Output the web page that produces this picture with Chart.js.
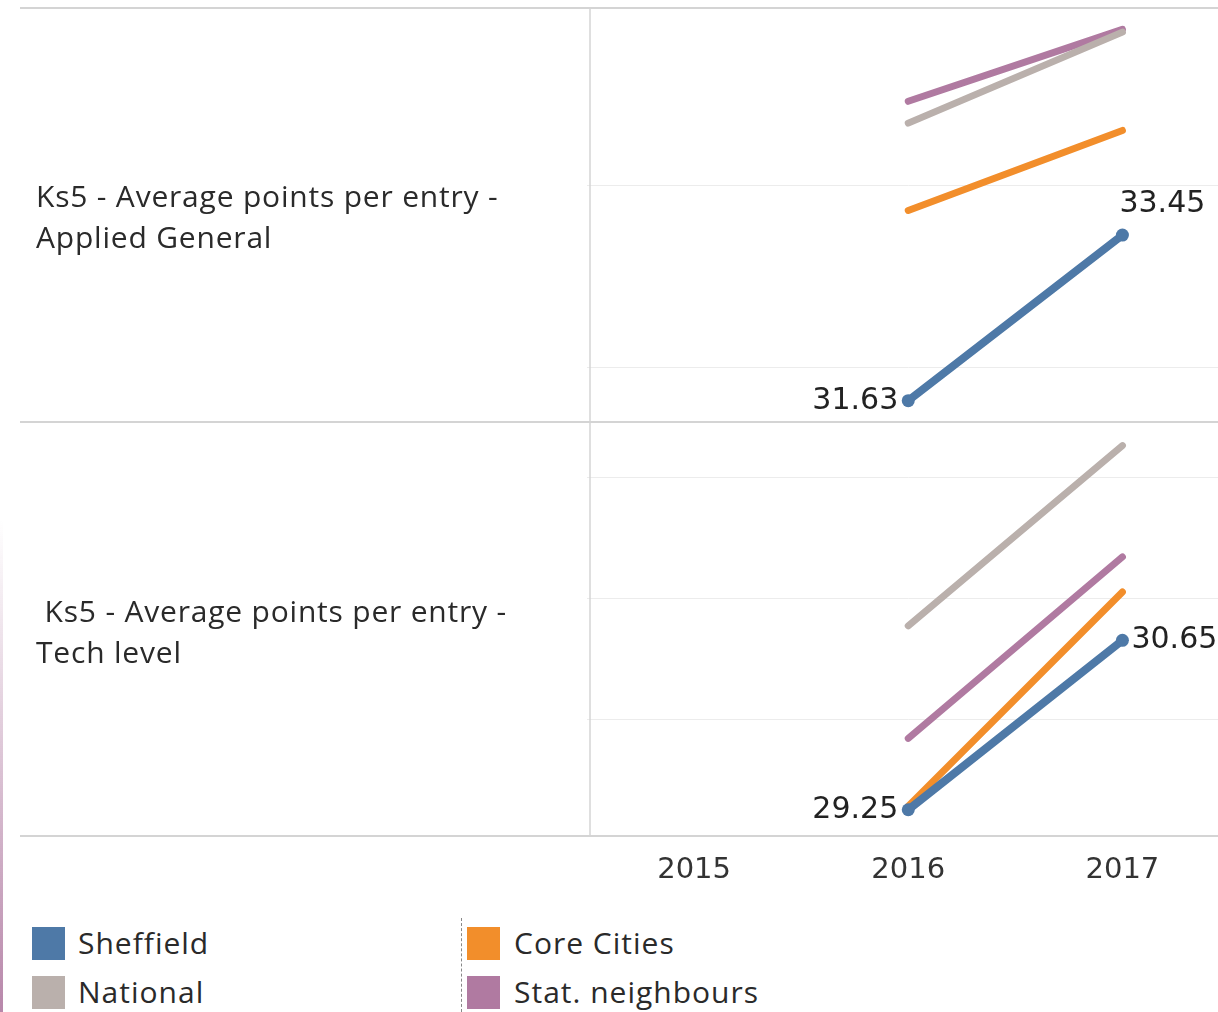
<!DOCTYPE html>
<html>
<head>
<meta charset="utf-8">
<script src="https://cdn.jsdelivr.net/npm/chart.js@4.4.0/dist/chart.umd.min.js"></script>
<style>
  html, body { margin:0; padding:0; background:#fff; width:1218px; height:1012px; overflow:hidden; position:relative; }
  body { font-family: "Open Sans", "Noto Sans", sans-serif; color:#333; }
  #c { position:absolute; left:0; top:0; }
  .rowlab { position:absolute; left:36px; font-size:30px; letter-spacing:0.8px; line-height:41px; color:#2a2a2a; white-space:pre; }
  .sw { position:absolute; width:33px; height:33px; }
  .lt { position:absolute; font-size:30px; letter-spacing:1px; line-height:34px; color:#2a2a2a; white-space:nowrap; }
  #dash { position:absolute; left:461px; top:918px; height:94px; width:0; border-left:1.5px dashed #888; }
  #edge { position:absolute; left:0; top:520px; width:3px; height:492px;
          background:linear-gradient(to bottom, rgba(176,122,161,0), rgba(176,122,161,0.9)); }
</style>
</head>
<body>
<canvas id="c" width="1236" height="900"></canvas>

<div class="rowlab" id="lab1" style="top:175px;"></div>
<div class="rowlab" id="lab2" style="top:590px;"></div>

<div id="legend"></div>
<div id="dash"></div>
<div id="edge"></div>

<script>
// ---------- data ----------
const years = ["2015", "2016", "2017"];
const seriesNames = ["Sheffield", "Core Cities", "National", "Stat. neighbours"];
const rowTitles = [
  ["Ks5 - Average points per entry -", "Applied General"],
  [" Ks5 - Average points per entry -", "Tech level"]
];

// Applied General
const agSheffield = [null, 31.63, 33.45];
const agCoreCities = [null, 33.72, 34.60];
const agNational = [null, 34.68, 35.68];
const agStatNeighbours = [null, 34.92, 35.71];

// Tech level
const tlSheffield = [null, 29.25, 30.65];
const tlCoreCities = [null, 29.28, 31.05];
const tlNational = [null, 30.77, 32.26];
const tlStatNeighbours = [null, 29.84, 31.34];

// legend order as shown
const legendOrder = ["Sheffield", "National", "Core Cities", "Stat. neighbours"];

// ---------- styling ----------
const colors = {
  "Sheffield": "#4e79a7",
  "Core Cities": "#f28e2b",
  "National": "#bab0ac",
  "Stat. neighbours": "#b07aa1"
};

// row labels
rowTitles.forEach((lines, i) => {
  document.getElementById("lab" + (i + 1)).textContent = lines.join("\n");
});

// HTML legend
(function () {
  const leg = document.getElementById("legend");
  const pos = [
    { sx: 32, sy: 927, tx: 78 },
    { sx: 32, sy: 976, tx: 78 },
    { sx: 467, sy: 927, tx: 514 },
    { sx: 467, sy: 976, tx: 514 }
  ];
  legendOrder.forEach((name, i) => {
    const p = pos[i];
    const s = document.createElement("div");
    s.className = "sw";
    s.style.left = p.sx + "px"; s.style.top = p.sy + "px";
    s.style.background = colors[name];
    leg.appendChild(s);
    const t = document.createElement("div");
    t.className = "lt";
    t.style.left = p.tx + "px"; t.style.top = (p.sy - 1) + "px";
    t.textContent = name;
    leg.appendChild(t);
  });
})();

function mk(name, data, axis, labelPos) {
  const isS = name === "Sheffield";
  return {
    label: name,
    data: data,
    yAxisID: axis,
    borderColor: colors[name],
    backgroundColor: colors[name],
    borderWidth: isS ? 8 : 7,
    borderCapStyle: "round",
    pointRadius: isS ? data.map(v => v == null ? 0 : 6.5) : 0,
    pointBorderWidth: 0,
    pointBackgroundColor: colors[name],
    spanGaps: false,
    tension: 0,
    labelPos: labelPos || null
  };
}

const datasets = [
  mk("Sheffield", agSheffield, "yTop", [null, "left", "above"]),
  mk("Sheffield", tlSheffield, "yBot", [null, "left", "right"]),
  mk("Core Cities", agCoreCities, "yTop"),
  mk("Core Cities", tlCoreCities, "yBot"),
  mk("National", agNational, "yTop"),
  mk("National", tlNational, "yBot"),
  mk("Stat. neighbours", agStatNeighbours, "yTop"),
  mk("Stat. neighbours", tlStatNeighbours, "yBot")
];

const framePlugin = {
  id: "frame",
  beforeDatasetsDraw(chart) {
    const { ctx, chartArea: a, scales } = chart;
    ctx.save();
    ctx.strokeStyle = "#d4d4d4";
    ctx.lineWidth = 2;
    const mid = Math.min(scales.yTop.bottom, scales.yBot.bottom);
    [a.top, mid, a.bottom].forEach(y => {
      ctx.beginPath(); ctx.moveTo(20, y); ctx.lineTo(chart.width, y); ctx.stroke();
    });
    ctx.lineWidth = 1.5;
    ctx.beginPath(); ctx.moveTo(a.left + 3, a.top); ctx.lineTo(a.left + 3, a.bottom); ctx.stroke();
    ctx.restore();
  }
};

const valueLabelPlugin = {
  id: "vlabels",
  afterDatasetsDraw(chart) {
    const ctx = chart.ctx;
    ctx.save();
    ctx.font = '30px "DejaVu Sans"';
    ctx.fillStyle = "#222";
    ctx.textBaseline = "middle";
    chart.data.datasets.forEach((ds, i) => {
      if (!ds.labelPos) return;
      const meta = chart.getDatasetMeta(i);
      meta.data.forEach((pt, j) => {
        const v = ds.data[j];
        const where = ds.labelPos[j];
        if (v == null || !where) return;
        const txt = v.toFixed(2);
        if (where === "left") { ctx.textAlign = "right"; ctx.fillText(txt, pt.x - 10, pt.y); }
        else if (where === "right") { ctx.textAlign = "left"; ctx.fillText(txt, pt.x + 9, pt.y); }
        else if (where === "above") { ctx.textAlign = "left"; ctx.fillText(txt, pt.x - 3, pt.y - 31); }
      });
    });
    ctx.restore();
  }
};

const gridStyle = { color: "#ececec", lineWidth: 1, drawTicks: false };

new Chart(document.getElementById("c"), {
  type: "line",
  data: { labels: years, datasets: datasets },
  options: {
    responsive: false,
    animation: false,
    devicePixelRatio: 1,
    layout: { padding: { top: 8, left: 0, right: 0, bottom: 0 } },
    plugins: { legend: { display: false }, tooltip: { enabled: false } },
    scales: {
      x: {
        type: "category",
        offset: true,
        grid: { display: false, drawTicks: false },
        border: { display: false },
        ticks: { color: "#333", font: { family: "DejaVu Sans", size: 29 }, padding: 17, maxRotation: 0 },
        afterFit(s) { s.height = 64; }
      },
      yBot: {
        type: "linear",
        position: "left",
        stack: "rows",
        stackWeight: 1,
        min: 29.033, max: 32.455,
        grid: gridStyle,
        border: { display: false },
        ticks: { display: false },
        afterBuildTicks(s) { s.ticks = [30, 31, 32].map(v => ({ value: v })); },
        afterFit(s) { s.width = 587; }
      },
      yTop: {
        type: "linear",
        position: "left",
        stack: "rows",
        stackWeight: 1,
        min: 31.396, max: 35.945,
        grid: gridStyle,
        border: { display: false },
        ticks: { display: false },
        afterBuildTicks(s) { s.ticks = [32, 34].map(v => ({ value: v })); },
        afterFit(s) { s.width = 587; }
      }
    }
  },
  plugins: [framePlugin, valueLabelPlugin]
});
</script>
</body>
</html>
